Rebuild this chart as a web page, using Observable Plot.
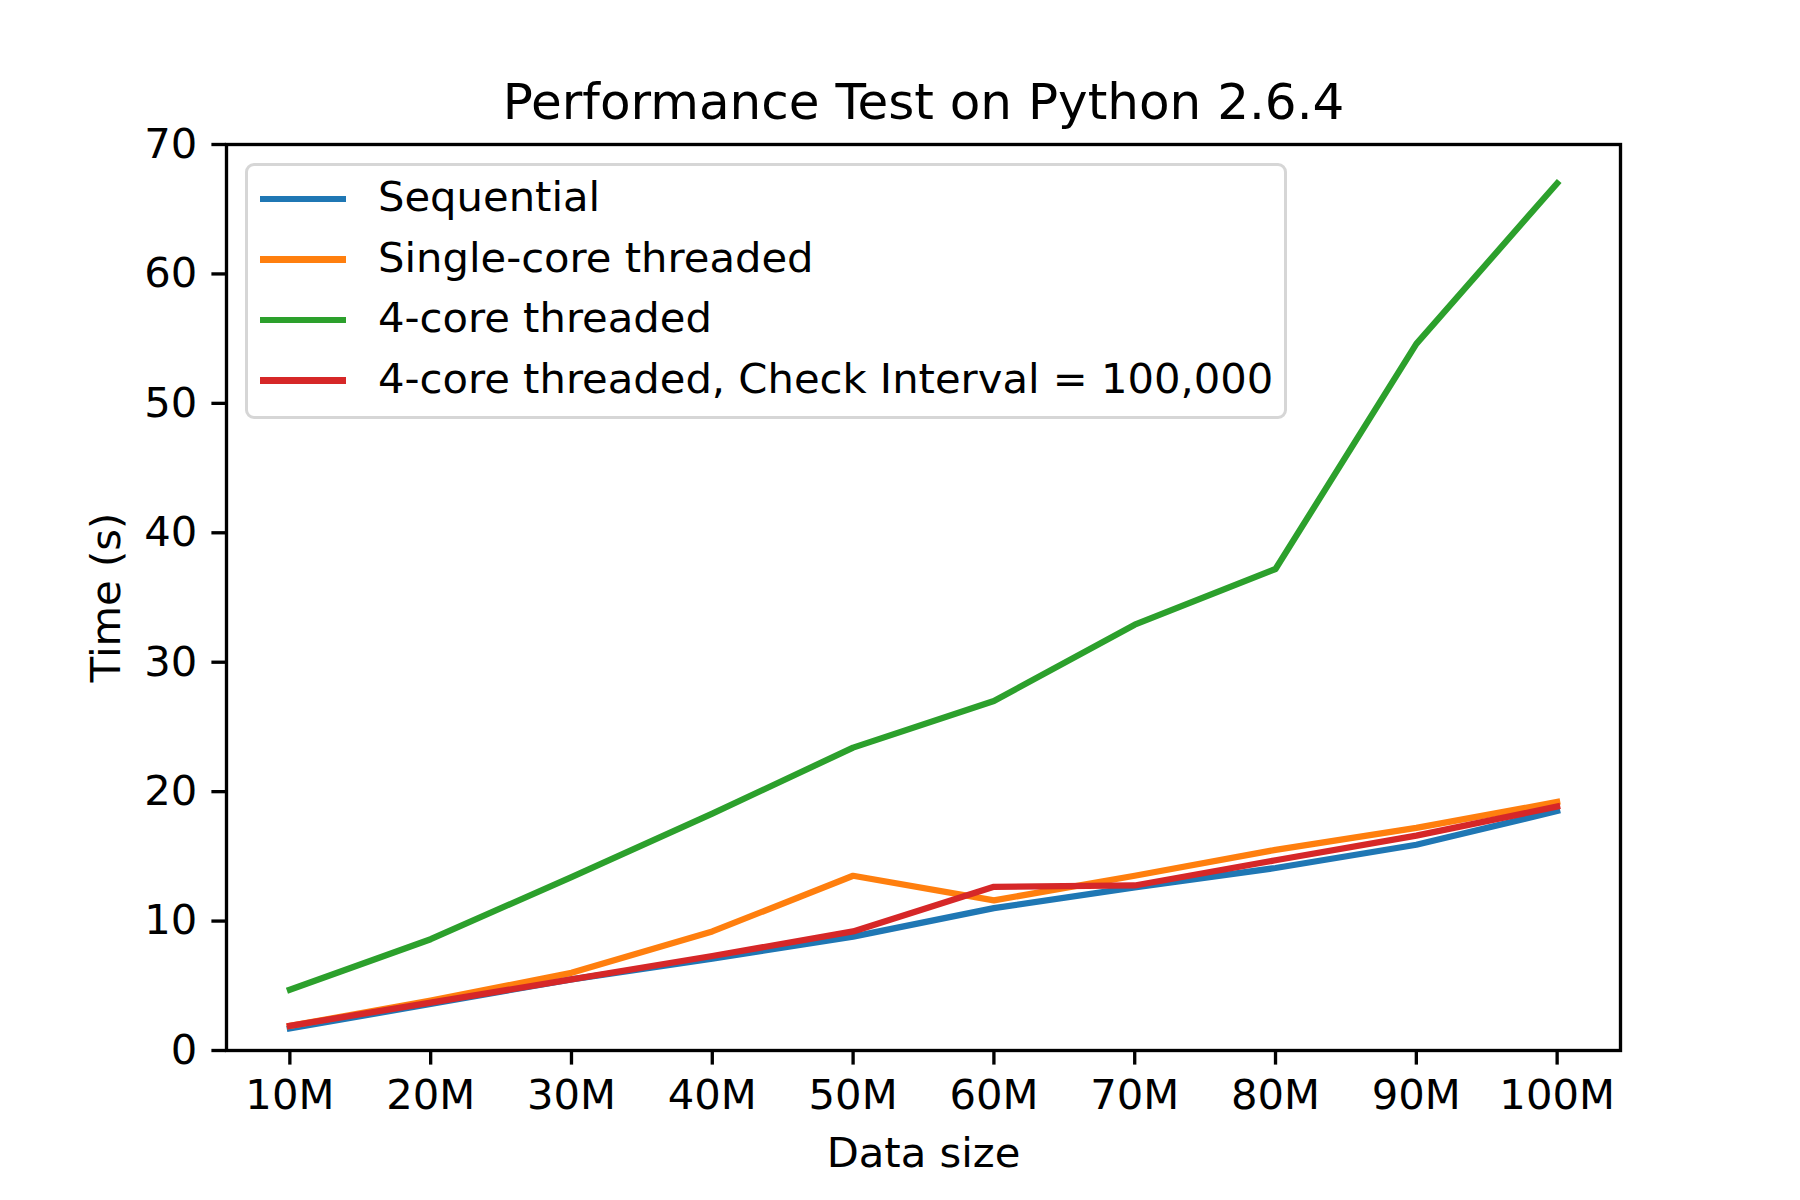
<!DOCTYPE html>
<html>
<head>
<meta charset="utf-8">
<script src="https://cdn.jsdelivr.net/npm/d3@7"></script>
<script src="https://cdn.jsdelivr.net/npm/@observablehq/plot@0.6"></script>
<style>
  html, body { margin: 0; padding: 0; background: white; }
  #wrap { position: relative; width: 1800px; height: 1200px; font-family: "DejaVu Sans", sans-serif; }
  #legend {
    position: absolute; left: 245px; top: 163px; width: 1036px; height: 250px;
    border: 3px solid #d6d6d6; border-radius: 9px; background: rgba(255,255,255,0.8);
    box-sizing: content-box;
  }
  .row { position: absolute; left: 0; height: 50px; display: flex; align-items: center; }
  .sw { position: absolute; left: 12px; width: 86px; height: 6.25px; }
  .lab { position: absolute; left: 130px; font-size: 41.7px; white-space: nowrap; color: #000; line-height: 50px; top: -2px; }
</style>
</head>
<body>
<div id="wrap"></div>
<script>
const title = "Performance Test on Python 2.6.4";
const xLabel = "Data size";
const yLabel = "Time (s)";
const sizes = [10, 20, 30, 40, 50, 60, 70, 80, 90, 100];
const yTicks = [0, 10, 20, 30, 40, 50, 60, 70];
const seriesNames = ["Sequential", "Single-core threaded", "4-core threaded", "4-core threaded, Check Interval = 100,000"];
const seriesColors = ["#1f77b4", "#ff7f0e", "#2ca02c", "#d62728"];
const sequential    = [1.7, 3.6, 5.5, 7.1, 8.8, 11.0, 12.6, 14.1, 15.9, 18.5];
const singleCore    = [1.9, 3.85, 6.0, 9.2, 13.5, 11.6, 13.5, 15.5, 17.2, 19.2];
const fourCore      = [4.7, 8.6, 13.4, 18.3, 23.4, 27.0, 32.9, 37.2, 54.6, 67.0];
const checkInterval = [1.9, 3.7, 5.5, 7.3, 9.2, 12.65, 12.75, 14.7, 16.6, 18.85];

const allSeries = [sequential, singleCore, fourCore, checkInterval];
const table = allSeries.flatMap((vals, i) => vals.map((v, j) => ({size: sizes[j], time: v, series: seriesNames[i]})));

const lw = 6.25;
const sw = 3.33;

const chart = Plot.plot({
  width: 1800,
  height: 1200,
  marginLeft: 226,
  marginRight: 180,
  marginTop: 144,
  marginBottom: 150,
  style: {fontFamily: "DejaVu Sans", fontSize: "41.7px", color: "black", background: "white"},
  x: {type: "linear", domain: [5.5, 104.5]},
  y: {type: "linear", domain: [0, 70]},
  color: {domain: seriesNames, range: seriesColors},
  marks: [
    ...seriesNames.map(name => Plot.line(table.filter(d => d.series === name), {
      x: "size", y: "time", stroke: "series", strokeWidth: lw, strokeLinejoin: "round", strokeLinecap: "square"
    })),
    Plot.frame({stroke: "black", strokeWidth: sw}),
    Plot.axisX({
      ticks: sizes, tickFormat: d => d + "M", tickSize: 14.6, tickPadding: 14.6,
      fontSize: 41.7, strokeWidth: sw, stroke: "black",
      label: xLabel, labelAnchor: "center", labelOffset: 116, labelArrow: "none"
    }),
    Plot.axisY({
      ticks: yTicks, tickSize: 14.6, tickPadding: 14.6,
      fontSize: 41.7, strokeWidth: sw, stroke: "black",
      label: yLabel, labelAnchor: "center", labelOffset: 136, labelArrow: "none"
    }),
    Plot.text([title], {frameAnchor: "top", dy: -26, lineAnchor: "bottom", fontSize: 50, fill: "black", text: d => d})
  ]
});

const wrap = document.getElementById("wrap");
wrap.appendChild(chart);

const legend = document.createElement("div");
legend.id = "legend";
seriesNames.forEach((name, i) => {
  const row = document.createElement("div");
  row.className = "row";
  row.style.top = (8 + i * 60.5) + "px";
  const s = document.createElement("div");
  s.className = "sw";
  s.style.background = seriesColors[i];
  s.style.top = (25 - lw / 2) + "px";
  const l = document.createElement("div");
  l.className = "lab";
  l.textContent = name;
  row.appendChild(s);
  row.appendChild(l);
  legend.appendChild(row);
});
wrap.appendChild(legend);
</script>
</body>
</html>
